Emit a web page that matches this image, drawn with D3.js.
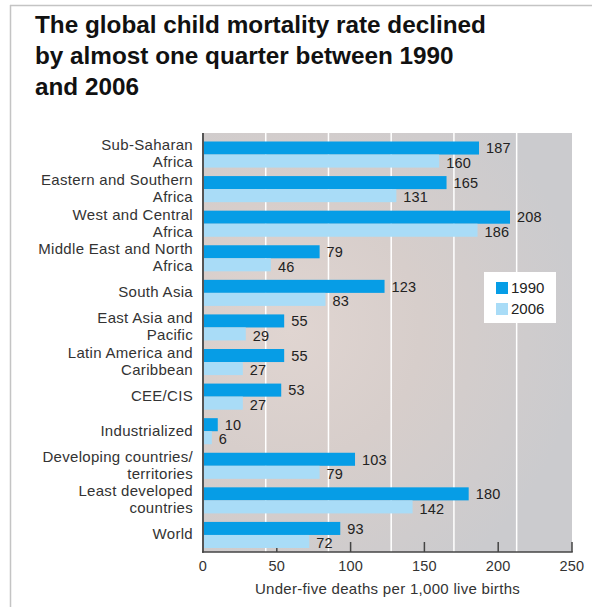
<!DOCTYPE html>
<html>
<head>
<meta charset="utf-8">
<script src="https://cdn.jsdelivr.net/npm/d3@7"></script>
<style>
  html, body { margin: 0; padding: 0; background: #fff; }
  svg { display: block; font-family: "Liberation Sans", Arial, Helvetica, sans-serif; }
</style>
</head>
<body>
<svg id="chart" width="592" height="607"></svg>
<script>
// Regions (label lines) and under-five mortality per 1,000 live births
const regions = [
  ["Sub-Saharan", "Africa"],
  ["Eastern and Southern", "Africa"],
  ["West and Central", "Africa"],
  ["Middle East and North", "Africa"],
  ["South Asia"],
  ["East Asia and", "Pacific"],
  ["Latin America and", "Caribbean"],
  ["CEE/CIS"],
  ["Industrialized"],
  ["Developing countries/", "territories"],
  ["Least developed", "countries"],
  ["World"]
];
const values1990 = [187, 165, 208, 79, 123, 55, 55, 53, 10, 103, 180, 93];
const values2006 = [160, 131, 186, 46, 83, 29, 27, 27, 6, 79, 142, 72];
const seriesNames = ["1990", "2006"];
const xTicks = [0, 50, 100, 150, 200, 250];
const gridValues = [42.5, 85, 127.5, 170, 212.5];
const titleLines = [
  "The global child mortality rate declined",
  "by almost one quarter between 1990",
  "and 2006"
];
const axisTitle = "Under-five deaths per 1,000 live births";

const colors = { "1990": "#069de6", "2006": "#a9dcf7" };

const svg = d3.select("#chart");

// outer frame (top and left rules)
svg.append("line").attr("x1", 10.5).attr("x2", 10.5).attr("y1", 5).attr("y2", 607)
  .attr("stroke", "#c4c4c4").attr("stroke-width", 1.5);
svg.append("line").attr("x1", 10).attr("x2", 592).attr("y1", 5.5).attr("y2", 5.5)
  .attr("stroke", "#c4c4c4").attr("stroke-width", 1.5);

// title
const title = svg.append("text").attr("x", 35).attr("fill", "#111")
  .style("font-weight", "bold").style("font-size", "24.3px");
title.selectAll("tspan").data(titleLines).join("tspan")
  .attr("x", 35).attr("y", (d, i) => 33 + i * 31).text(d => d);

// plot geometry
const plot = { left: 203, right: 572, top: 133, bottom: 552 };
const x = d3.scaleLinear().domain([0, 250]).range([plot.left, plot.right]);
const y = d3.scaleBand().domain(d3.range(regions.length))
  .range([141.5, 548]).paddingInner(0.246).paddingOuter(0);
const ySub = d3.scaleBand().domain(seriesNames).range([0, y.bandwidth()]);

// background with soft warm-to-grey shading
const defs = svg.append("defs");
const grad = defs.append("radialGradient").attr("id", "bg")
  .attr("gradientUnits", "userSpaceOnUse")
  .attr("cx", 290).attr("cy", 330).attr("r", 290);
grad.append("stop").attr("offset", "0").attr("stop-color", "#e0d5d1");
grad.append("stop").attr("offset", "0.45").attr("stop-color", "#d7cecb");
grad.append("stop").attr("offset", "1").attr("stop-color", "#cbcbce");
svg.append("rect").attr("x", plot.left).attr("y", plot.top)
  .attr("width", plot.right - plot.left).attr("height", plot.bottom - plot.top)
  .attr("fill", "url(#bg)");

// white vertical rules
svg.append("g").selectAll("line").data(gridValues).join("line")
  .attr("x1", d => x(d)).attr("x2", d => x(d))
  .attr("y1", plot.top).attr("y2", plot.bottom)
  .attr("stroke", "#fff").attr("stroke-width", 1.5);

// bottom axis ticks (pointing up, under bars)
svg.append("g").selectAll("line").data(xTicks).join("line")
  .attr("x1", d => x(d)).attr("x2", d => x(d))
  .attr("y1", plot.bottom - 10).attr("y2", plot.bottom)
  .attr("stroke", "#444").attr("stroke-width", 1.5);

// bars
const groups = svg.append("g").selectAll("g").data(regions).join("g")
  .attr("transform", (d, i) => `translate(0,${y(i)})`);

const rows = (i) => [
  { key: "1990", v: values1990[i] },
  { key: "2006", v: values2006[i] }
];

groups.selectAll("rect").data((d, i) => rows(i)).join("rect")
  .attr("x", x(0))
  .attr("y", d => ySub(d.key))
  .attr("width", d => x(d.v) - x(0))
  .attr("height", ySub.bandwidth())
  .attr("fill", d => colors[d.key]);

groups.selectAll("text.val").data((d, i) => rows(i)).join("text")
  .attr("class", "val")
  .attr("x", d => x(d.v) + 7)
  .attr("y", d => ySub(d.key) + ySub.bandwidth() / 2 + (d.key === "2006" ? 1.5 : 0))
  .attr("dy", "0.36em")
  .attr("fill", "#222").style("font-size", "14.5px").style("letter-spacing", "0.2px")
  .text(d => d.v);

// category labels
groups.append("text")
  .attr("text-anchor", "end").attr("fill", "#333")
  .style("font-size", "15px").style("letter-spacing", "0.3px")
  .each(function (lines) {
    const t = d3.select(this);
    const c = y.bandwidth() / 2;
    lines.forEach((ln, k) => {
      t.append("tspan").attr("x", 193)
        .attr("y", c - 1 + (k - (lines.length - 1) / 2) * 17)
        .attr("dy", "0.36em").text(ln);
    });
  });

// axis lines
svg.append("line").attr("x1", plot.left).attr("x2", plot.left)
  .attr("y1", plot.top).attr("y2", plot.bottom + 0.75)
  .attr("stroke", "#555").attr("stroke-width", 2);
svg.append("line").attr("x1", plot.left - 1).attr("x2", plot.right + 0.75)
  .attr("y1", plot.bottom).attr("y2", plot.bottom)
  .attr("stroke", "#444").attr("stroke-width", 1.5);

// tick labels
svg.append("g").selectAll("text").data(xTicks).join("text")
  .attr("x", d => x(d)).attr("y", 571)
  .attr("text-anchor", "middle").attr("fill", "#333")
  .style("font-size", "14.5px").style("letter-spacing", "0.2px")
  .text(d => d);

svg.append("text").attr("x", (plot.left + plot.right) / 2).attr("y", 594)
  .attr("text-anchor", "middle").attr("fill", "#333")
  .style("font-size", "15px").style("letter-spacing", "0.3px")
  .text(axisTitle);

// legend
const lg = svg.append("g").attr("transform", "translate(484,272)");
lg.append("rect").attr("width", 72).attr("height", 51).attr("fill", "#fff");
const items = lg.selectAll("g").data(seriesNames).join("g")
  .attr("transform", (d, i) => `translate(12,${10 + i * 21})`);
items.append("rect").attr("width", 12).attr("height", 12).attr("fill", d => colors[d]);
items.append("text").attr("x", 15).attr("y", 6).attr("dy", "0.36em")
  .attr("fill", "#222").style("font-size", "15px").text(d => d);
</script>
</body>
</html>
